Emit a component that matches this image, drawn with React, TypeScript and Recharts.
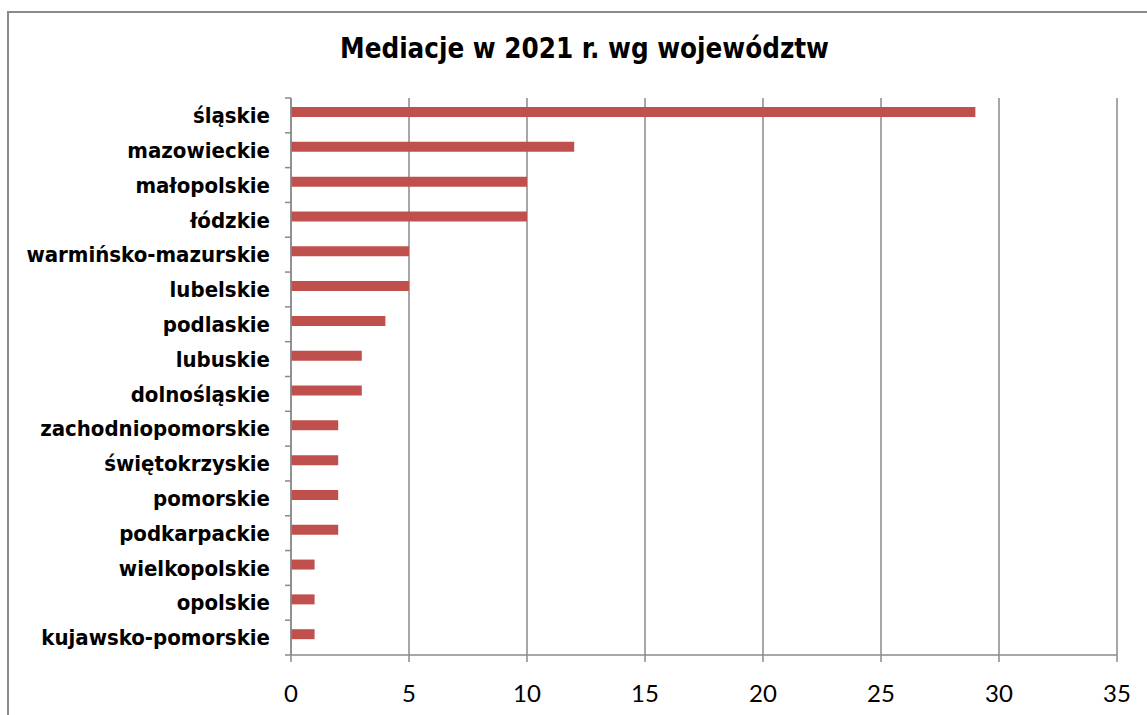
import React from "react";
import { BarChart, Bar, XAxis, YAxis, CartesianGrid } from "recharts";

const categories = [
  "śląskie",
  "mazowieckie",
  "małopolskie",
  "łódzkie",
  "warmińsko-mazurskie",
  "lubelskie",
  "podlaskie",
  "lubuskie",
  "dolnośląskie",
  "zachodniopomorskie",
  "świętokrzyskie",
  "pomorskie",
  "podkarpackie",
  "wielkopolskie",
  "opolskie",
  "kujawsko-pomorskie",
];
const values = [29, 12, 10, 10, 5, 5, 4, 3, 3, 2, 2, 2, 2, 1, 1, 1];
const xTicks = [0, 5, 10, 15, 20, 25, 30, 35];
const title = "Mediacje w 2021 r. wg województw";

const data = categories.map((name, i) => ({ name, value: values[i] }));

const GRAY = "#8a8a8a";
const TICK_LEN = 6;
const TICK_MARGIN = 15;
const LABEL_FONT = "'DejaVu Sans Condensed', 'DejaVu Sans', sans-serif";

const YTick = (props: any) => {
  const { x, y, payload, index } = props;
  const half = payload && typeof payload.offset === "number" && payload.offset > 0 ? payload.offset : 17.4;
  const axisX = x + TICK_MARGIN + TICK_LEN;
  return (
    <g>
      <line x1={axisX - TICK_LEN} x2={axisX} y1={y - half} y2={y - half} stroke={GRAY} strokeWidth={1.5} />
      {index === categories.length - 1 && (
        <line x1={axisX - TICK_LEN} x2={axisX} y1={y + half} y2={y + half} stroke={GRAY} strokeWidth={1.5} />
      )}
      <text
        x={x}
        y={y}
        dy="0.35em"
        textAnchor="end"
        fontFamily={LABEL_FONT}
        fontWeight="bold"
        fontSize={22}
        fill="#000"
      >
        {payload.value}
      </text>
    </g>
  );
};

export default function App() {
  return (
    <div style={{ position: "absolute", left: 0, top: 0, width: 1147, height: 715, overflow: "hidden", background: "#fff" }}>
      <div
        style={{
          position: "absolute",
          left: 7,
          top: 11,
          width: 1170,
          height: 730,
          borderTop: `2px solid ${GRAY}`,
          borderLeft: `2px solid ${GRAY}`,
          boxSizing: "border-box",
        }}
      />
      <div
        style={{
          position: "absolute",
          left: 0,
          width: 1169,
          top: 35,
          textAlign: "center",
          fontFamily: LABEL_FONT,
          fontWeight: "bold",
          fontSize: 27.5,
          lineHeight: 1,
          color: "#000",
          whiteSpace: "nowrap",
        }}
      >
        {title}
      </div>
      <div style={{ position: "absolute", left: 9, top: 13 }}>
        <BarChart
          width={1150}
          height={700}
          data={data}
          layout="vertical"
          margin={{ top: 85, right: 42, bottom: 8, left: 0 }}
          barGap={0}
        >
          <CartesianGrid horizontal={false} vertical={true} stroke={GRAY} strokeWidth={1.5} />
          <XAxis
            type="number"
            domain={[0, 35]}
            ticks={xTicks}
            interval={0}
            height={50}
            axisLine={{ stroke: GRAY, strokeWidth: 1.5 }}
            tickLine={{ stroke: GRAY, strokeWidth: 1.5 }}
            tickSize={7}
            tickMargin={23}
            tick={{ fill: "#000", fontFamily: "Lato, sans-serif", fontSize: 24 }}
          />
          <YAxis
            type="category"
            dataKey="name"
            width={282}
            interval={0}
            axisLine={{ stroke: GRAY, strokeWidth: 1.5 }}
            tickLine={false}
            tickSize={0}
            tickMargin={TICK_MARGIN + TICK_LEN}
            tick={<YTick />}
          />
          <Bar dataKey="value" fill="#C0504D" barSize={10} isAnimationActive={false} />
          <Bar dataKey="pad" fill="none" barSize={6} isAnimationActive={false} />
        </BarChart>
      </div>
    </div>
  );
}
